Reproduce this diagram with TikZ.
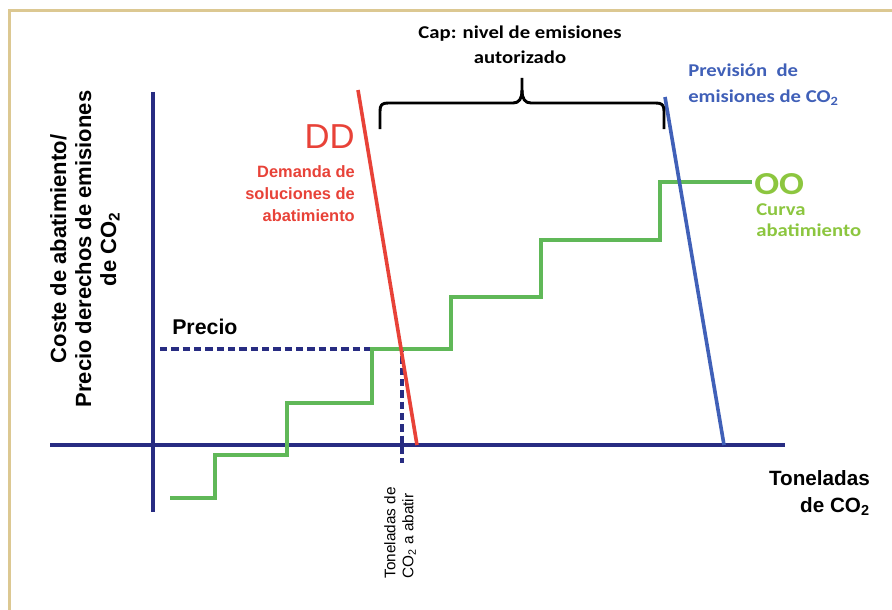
\documentclass[tikz,border=0pt]{standalone}
\usepackage{fontspec}
\setmainfont{Liberation Sans}
\newfontfamily\calfont[FakeStretch=1.15]{Carlito}
\begin{document}
\begin{tikzpicture}[x=0.75pt,y=-0.75pt,
  lbl/.style={inner sep=0pt,font=\bfseries},
  axis/.style={draw=axisblue,line width=2.4pt},
  stepline/.style={draw=stepgreen,line width=2.6pt},
  guide/.style={draw=axisblue,line width=2.3pt,dash pattern=on 5.5pt off 3pt}]
\definecolor{axisblue}{RGB}{40,44,130}
\definecolor{ddred}{RGB}{232,66,56}
\definecolor{prevblue}{RGB}{64,96,184}
\definecolor{stepgreen}{RGB}{96,184,88}
\definecolor{txtgreen}{RGB}{140,198,63}
\definecolor{frametan}{RGB}{220,200,146}
\useasboundingbox (0,0) rectangle (892,610);
\fill[white] (0,0) rectangle (892,610);
\draw[frametan,line width=2.2pt] (905,10.5) -- (9.5,10.5) -- (9.5,620);
% axes
\coordinate (yt) at (153,92); \coordinate (yb) at (153,512);
\coordinate (xl) at (50,445); \coordinate (xr) at (785,445);
\draw[axis] (yt) -- (yb);
\draw[axis] (xl) -- (xr);
% price guides
\coordinate (pl) at (160,349); \coordinate (pc) at (402,349); \coordinate (pb) at (402,463);
\draw[guide] (pl) -- (pc) -- (pb);
% green step curve
\draw[stepline,line join=miter] (170,498) -- (215,498) -- (215,455) -- (287,455) -- (287,403)
  -- (372,403) -- (372,349) -- (451,349) -- (451,297) -- (541,297) -- (541,240)
  -- (660,240) -- (660,182) -- (752,182);
% red DD line
\coordinate (dt) at (358,90); \coordinate (db) at (417,445);
\draw[ddred,line width=2.7pt] (dt) -- (db);
% blue forecast line
\coordinate (bt) at (665,97); \coordinate (bb) at (724,445);
\draw[prevblue,line width=2.7pt] (bt) -- (bb);
% brace
\draw[black,line width=2.2pt,line join=round]
  (380,129) -- (380,111) .. controls (380,105) and (382,103) .. (388,103) -- (513,103)
  .. controls (519,103) and (522,99) .. (522,90) -- (522,78);
\draw[black,line width=2.2pt,line join=round]
  (522,90) .. controls (522,99) and (525,103) .. (531,103) -- (656,103)
  .. controls (662,103) and (664,105) .. (664,111) -- (664,129);
% texts
\node[lbl,align=center,font=\calfont\bfseries\fontsize{13.5}{19}\selectfont] (cap) at (520,45) {Cap: nivel de emisiones\\autorizado};
\node[lbl,anchor=west,align=left,text=prevblue,font=\calfont\bfseries\fontsize{13.5}{19.5}\selectfont] (prev) at (688,85) {Previsión~ de\\emisiones de CO\textsubscript{2}};
\node[inner sep=0pt,anchor=east,text=ddred,font=\fontsize{26}{28}\selectfont] (dd) at (355,137) {DD};
\node[lbl,anchor=east,align=right,text=ddred,font=\bfseries\fontsize{12.3}{16.5}\selectfont] (dem) at (355,194) {Demanda de\\soluciones de\\abatimiento};
\node[lbl,anchor=west,text=txtgreen,font=\calfont\bfseries\fontsize{24}{26}\selectfont] (oo) at (754,184) {OO};
\node[lbl,anchor=west,align=left,text=txtgreen,font=\calfont\bfseries\fontsize{13.5}{15.5}\selectfont] (curva) at (756,220) {Curva\\abatimiento};
\node[lbl,anchor=west,font=\bfseries\fontsize{16}{18}\selectfont] (precio) at (172,327) {Precio};
\node[lbl,rotate=90,align=center,font=\bfseries\fontsize{16.5}{18.75}\selectfont] (ylab) at (85,249) {Coste de abatimiento/\\Precio derechos de emisiones\\de CO\textsubscript{2}};
\node[lbl,anchor=east,align=right,font=\bfseries\fontsize{15.5}{20}\selectfont] (xlab) at (870,493) {Toneladas\\de CO\textsubscript{2}};
\node[inner sep=0pt,rotate=90,align=left,font=\fontsize{11.5}{13.5}\selectfont] (abat) at (400,533) {Toneladas de\\CO\textsubscript{2} a abatir};
\end{tikzpicture}
\end{document}
